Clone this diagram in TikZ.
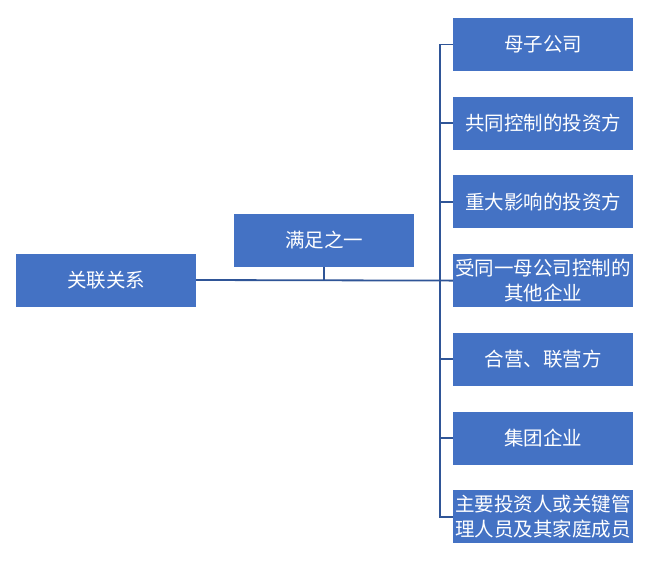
\documentclass[tikz,border=0pt]{standalone}
\usepackage{fontspec}
\setmainfont{Noto Sans CJK SC}
\usetikzlibrary{positioning}
\definecolor{boxblue}{RGB}{68, 114, 196}
\definecolor{lineblue}{RGB}{47, 85, 151}

\begin{document}
\begin{tikzpicture} [
      x=1pt, y=1pt,
      font=\fontsize{19.5}{25}\selectfont,
      node distance=25.3pt and 8mm,
      block/.style={rectangle, fill=boxblue, text=white, minimum width=180pt, minimum height=53pt, inner sep=1pt, align=center},
      link/.style={draw=lineblue, line width=1.8pt}
  ]
  \useasboundingbox (0,0) rectangle (650,-566);

  \node[block] (root) at (106,-280) {关联关系};
  \node[block] (cond) at (324,-240.5) {满足之一};

  \node[block] (c1) at (543,-44.5) {母子公司};
  \node[block, below=of c1] (c2) {共同控制的投资方};
  \node[block, below=of c2] (c3) {重大影响的投资方};
  \node[block, below=of c3] (c4) {受同一母公司控制的\\其他企业};
  \node[block, below=of c4] (c5) {合营、联营方};
  \node[block, below=of c5] (c6) {集团企业};
  \node[block, below=of c6] (c7) {主要投资人或关键管\\理人员及其家庭成员};

  \draw[link] (root.east) -- (c4.west);
  \draw[link] (cond.south) -- (cond.south |- root.east);
  \draw[link] (c1.west) -- ++(-13,0) |- (c7.west);
  \foreach \i in {2,3,5,6}
    \draw[link] (c\i.west) -- ++(-13,0);
\end{tikzpicture}
\end{document}
